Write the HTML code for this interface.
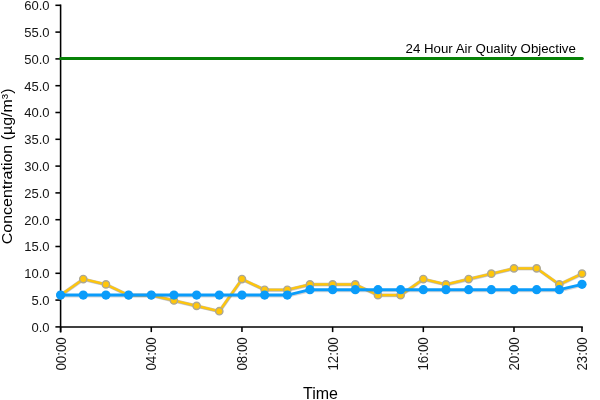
<!DOCTYPE html>
<html><head><meta charset="utf-8"><title>Chart</title>
<style>
html,body{margin:0;padding:0;background:#fff;}
body{width:600px;height:400px;overflow:hidden;}
svg{display:block;will-change:transform;font-family:"Liberation Sans",sans-serif;}
</style></head><body>
<svg width="600" height="400" viewBox="0 0 600 400">
<defs><filter id="bl" x="-5%" y="-50%" width="110%" height="200%" filterUnits="objectBoundingBox"><feGaussianBlur stdDeviation="0.6"/></filter></defs>
<rect width="600" height="400" fill="#ffffff"/>
<g stroke="#000" stroke-width="1.55" fill="none">
<line x1="60.6" y1="4.5" x2="60.6" y2="332.4"/>
<line x1="60.6" y1="326.9" x2="582.8" y2="326.9"/>
<line x1="55.4" y1="326.90" x2="60.6" y2="326.90"/>
<line x1="55.4" y1="300.10" x2="60.6" y2="300.10"/>
<line x1="55.4" y1="273.30" x2="60.6" y2="273.30"/>
<line x1="55.4" y1="246.50" x2="60.6" y2="246.50"/>
<line x1="55.4" y1="219.70" x2="60.6" y2="219.70"/>
<line x1="55.4" y1="192.90" x2="60.6" y2="192.90"/>
<line x1="55.4" y1="166.10" x2="60.6" y2="166.10"/>
<line x1="55.4" y1="139.30" x2="60.6" y2="139.30"/>
<line x1="55.4" y1="112.50" x2="60.6" y2="112.50"/>
<line x1="55.4" y1="85.70" x2="60.6" y2="85.70"/>
<line x1="55.4" y1="58.90" x2="60.6" y2="58.90"/>
<line x1="55.4" y1="32.10" x2="60.6" y2="32.10"/>
<line x1="55.4" y1="5.30" x2="60.6" y2="5.30"/>
<line x1="60.60" y1="326.9" x2="60.60" y2="332.09999999999997"/>
<line x1="151.28" y1="326.9" x2="151.28" y2="332.09999999999997"/>
<line x1="241.96" y1="326.9" x2="241.96" y2="332.09999999999997"/>
<line x1="332.63" y1="326.9" x2="332.63" y2="332.09999999999997"/>
<line x1="423.31" y1="326.9" x2="423.31" y2="332.09999999999997"/>
<line x1="513.99" y1="326.9" x2="513.99" y2="332.09999999999997"/>
<line x1="582.00" y1="326.9" x2="582.00" y2="332.09999999999997"/>
</g>
<g font-size="13.55" fill="#151515" text-anchor="end">
<text transform="translate(49.6,331.75) scale(0.962,1)">0.0</text>
<text transform="translate(49.6,304.95) scale(0.962,1)">5.0</text>
<text transform="translate(49.6,278.15) scale(0.962,1)">10.0</text>
<text transform="translate(49.6,251.35) scale(0.962,1)">15.0</text>
<text transform="translate(49.6,224.55) scale(0.962,1)">20.0</text>
<text transform="translate(49.6,197.75) scale(0.962,1)">25.0</text>
<text transform="translate(49.6,170.95) scale(0.962,1)">30.0</text>
<text transform="translate(49.6,144.15) scale(0.962,1)">35.0</text>
<text transform="translate(49.6,117.35) scale(0.962,1)">40.0</text>
<text transform="translate(49.6,90.55) scale(0.962,1)">45.0</text>
<text transform="translate(49.6,63.75) scale(0.962,1)">50.0</text>
<text transform="translate(49.6,36.95) scale(0.962,1)">55.0</text>
<text transform="translate(49.6,10.15) scale(0.962,1)">60.0</text>
</g>
<g font-size="13.33" fill="#151515" text-anchor="end">
<text transform="translate(65.70,337.3) rotate(-90) scale(1,1.04)">00:00</text>
<text transform="translate(156.38,337.3) rotate(-90) scale(1,1.04)">04:00</text>
<text transform="translate(247.06,337.3) rotate(-90) scale(1,1.04)">08:00</text>
<text transform="translate(337.73,337.3) rotate(-90) scale(1,1.04)">12:00</text>
<text transform="translate(428.41,337.3) rotate(-90) scale(1,1.04)">16:00</text>
<text transform="translate(519.09,337.3) rotate(-90) scale(1,1.04)">20:00</text>
<text transform="translate(587.10,337.3) rotate(-90) scale(1,1.04)">23:00</text>
</g>
<text font-size="16" fill="#000" text-anchor="middle" transform="translate(11.7,166.4) rotate(-90) scale(1,0.94)">Concentration (µg/m³)</text>
<text font-size="16" fill="#000" text-anchor="middle" x="320.5" y="399.4">Time</text>
<line x1="60.6" y1="60.05" x2="582.6" y2="60.05" stroke="#777" stroke-width="2.6" stroke-linecap="round" opacity="0.5" filter="url(#bl)"/>
<line x1="60.6" y1="58.55" x2="582.3" y2="58.55" stroke="#078207" stroke-width="3" stroke-linecap="round"/>
<text font-size="13.27" fill="#000" text-anchor="end" x="575.9" y="53.4">24 Hour Air Quality Objective</text>
<polyline points="60.60,295.14 83.27,279.06 105.94,284.42 128.61,295.14 151.28,295.14 173.95,300.50 196.62,305.86 219.29,311.22 241.96,279.06 264.63,289.78 287.30,289.78 309.97,284.42 332.63,284.42 355.30,284.42 377.97,295.14 400.64,295.14 423.31,279.06 445.98,284.42 468.65,279.06 491.32,273.70 513.99,268.34 536.66,268.34 559.33,284.42 582.00,273.70" transform="translate(0.4,1.1)" fill="none" stroke="#777" stroke-width="2.15" stroke-linejoin="round" stroke-linecap="round" opacity="0.3" filter="url(#bl)"/>
<polyline points="60.60,295.14 83.27,279.06 105.94,284.42 128.61,295.14 151.28,295.14 173.95,300.50 196.62,305.86 219.29,311.22 241.96,279.06 264.63,289.78 287.30,289.78 309.97,284.42 332.63,284.42 355.30,284.42 377.97,295.14 400.64,295.14 423.31,279.06 445.98,284.42 468.65,279.06 491.32,273.70 513.99,268.34 536.66,268.34 559.33,284.42 582.00,273.70" fill="none" stroke="#b5a780" stroke-width="3.15" stroke-linejoin="round" stroke-linecap="round" opacity="0.75"/>
<polyline points="60.60,295.14 83.27,279.06 105.94,284.42 128.61,295.14 151.28,295.14 173.95,300.50 196.62,305.86 219.29,311.22 241.96,279.06 264.63,289.78 287.30,289.78 309.97,284.42 332.63,284.42 355.30,284.42 377.97,295.14 400.64,295.14 423.31,279.06 445.98,284.42 468.65,279.06 491.32,273.70 513.99,268.34 536.66,268.34 559.33,284.42 582.00,273.70" fill="none" stroke="#ffc60a" stroke-width="2.15" stroke-linejoin="round" stroke-linecap="round"/>
<circle cx="60.60" cy="295.14" r="3.65" fill="#ffc60a" stroke="#aca794" stroke-width="1.4"/>
<circle cx="83.27" cy="279.06" r="3.65" fill="#ffc60a" stroke="#aca794" stroke-width="1.4"/>
<circle cx="105.94" cy="284.42" r="3.65" fill="#ffc60a" stroke="#aca794" stroke-width="1.4"/>
<circle cx="128.61" cy="295.14" r="3.65" fill="#ffc60a" stroke="#aca794" stroke-width="1.4"/>
<circle cx="151.28" cy="295.14" r="3.65" fill="#ffc60a" stroke="#aca794" stroke-width="1.4"/>
<circle cx="173.95" cy="300.50" r="3.65" fill="#ffc60a" stroke="#aca794" stroke-width="1.4"/>
<circle cx="196.62" cy="305.86" r="3.65" fill="#ffc60a" stroke="#aca794" stroke-width="1.4"/>
<circle cx="219.29" cy="311.22" r="3.65" fill="#ffc60a" stroke="#aca794" stroke-width="1.4"/>
<circle cx="241.96" cy="279.06" r="3.65" fill="#ffc60a" stroke="#aca794" stroke-width="1.4"/>
<circle cx="264.63" cy="289.78" r="3.65" fill="#ffc60a" stroke="#aca794" stroke-width="1.4"/>
<circle cx="287.30" cy="289.78" r="3.65" fill="#ffc60a" stroke="#aca794" stroke-width="1.4"/>
<circle cx="309.97" cy="284.42" r="3.65" fill="#ffc60a" stroke="#aca794" stroke-width="1.4"/>
<circle cx="332.63" cy="284.42" r="3.65" fill="#ffc60a" stroke="#aca794" stroke-width="1.4"/>
<circle cx="355.30" cy="284.42" r="3.65" fill="#ffc60a" stroke="#aca794" stroke-width="1.4"/>
<circle cx="377.97" cy="295.14" r="3.65" fill="#ffc60a" stroke="#aca794" stroke-width="1.4"/>
<circle cx="400.64" cy="295.14" r="3.65" fill="#ffc60a" stroke="#aca794" stroke-width="1.4"/>
<circle cx="423.31" cy="279.06" r="3.65" fill="#ffc60a" stroke="#aca794" stroke-width="1.4"/>
<circle cx="445.98" cy="284.42" r="3.65" fill="#ffc60a" stroke="#aca794" stroke-width="1.4"/>
<circle cx="468.65" cy="279.06" r="3.65" fill="#ffc60a" stroke="#aca794" stroke-width="1.4"/>
<circle cx="491.32" cy="273.70" r="3.65" fill="#ffc60a" stroke="#aca794" stroke-width="1.4"/>
<circle cx="513.99" cy="268.34" r="3.65" fill="#ffc60a" stroke="#aca794" stroke-width="1.4"/>
<circle cx="536.66" cy="268.34" r="3.65" fill="#ffc60a" stroke="#aca794" stroke-width="1.4"/>
<circle cx="559.33" cy="284.42" r="3.65" fill="#ffc60a" stroke="#aca794" stroke-width="1.4"/>
<circle cx="582.00" cy="273.70" r="3.65" fill="#ffc60a" stroke="#aca794" stroke-width="1.4"/>
<polyline points="60.60,295.04 83.27,295.04 105.94,295.04 128.61,295.04 151.28,295.04 173.95,295.04 196.62,295.04 219.29,295.04 241.96,295.04 264.63,295.04 287.30,295.04 309.97,289.68 332.63,289.68 355.30,289.68 377.97,289.68 400.64,289.68 423.31,289.68 445.98,289.68 468.65,289.68 491.32,289.68 513.99,289.68 536.66,289.68 559.33,289.68 582.00,284.32" transform="translate(0.4,1.1)" fill="none" stroke="#777" stroke-width="2.9" stroke-linejoin="round" stroke-linecap="round" opacity="0.3" filter="url(#bl)"/>
<polyline points="60.60,295.04 83.27,295.04 105.94,295.04 128.61,295.04 151.28,295.04 173.95,295.04 196.62,295.04 219.29,295.04 241.96,295.04 264.63,295.04 287.30,295.04 309.97,289.68 332.63,289.68 355.30,289.68 377.97,289.68 400.64,289.68 423.31,289.68 445.98,289.68 468.65,289.68 491.32,289.68 513.99,289.68 536.66,289.68 559.33,289.68 582.00,284.32" fill="none" stroke="#0a9cfa" stroke-width="2.9" stroke-linejoin="round" stroke-linecap="round"/>
<circle cx="60.60" cy="295.04" r="4.6" fill="#0a9cfa"/>
<circle cx="83.27" cy="295.04" r="4.6" fill="#0a9cfa"/>
<circle cx="105.94" cy="295.04" r="4.6" fill="#0a9cfa"/>
<circle cx="128.61" cy="295.04" r="4.6" fill="#0a9cfa"/>
<circle cx="151.28" cy="295.04" r="4.6" fill="#0a9cfa"/>
<circle cx="173.95" cy="295.04" r="4.6" fill="#0a9cfa"/>
<circle cx="196.62" cy="295.04" r="4.6" fill="#0a9cfa"/>
<circle cx="219.29" cy="295.04" r="4.6" fill="#0a9cfa"/>
<circle cx="241.96" cy="295.04" r="4.6" fill="#0a9cfa"/>
<circle cx="264.63" cy="295.04" r="4.6" fill="#0a9cfa"/>
<circle cx="287.30" cy="295.04" r="4.6" fill="#0a9cfa"/>
<circle cx="309.97" cy="289.68" r="4.6" fill="#0a9cfa"/>
<circle cx="332.63" cy="289.68" r="4.6" fill="#0a9cfa"/>
<circle cx="355.30" cy="289.68" r="4.6" fill="#0a9cfa"/>
<circle cx="377.97" cy="289.68" r="4.6" fill="#0a9cfa"/>
<circle cx="400.64" cy="289.68" r="4.6" fill="#0a9cfa"/>
<circle cx="423.31" cy="289.68" r="4.6" fill="#0a9cfa"/>
<circle cx="445.98" cy="289.68" r="4.6" fill="#0a9cfa"/>
<circle cx="468.65" cy="289.68" r="4.6" fill="#0a9cfa"/>
<circle cx="491.32" cy="289.68" r="4.6" fill="#0a9cfa"/>
<circle cx="513.99" cy="289.68" r="4.6" fill="#0a9cfa"/>
<circle cx="536.66" cy="289.68" r="4.6" fill="#0a9cfa"/>
<circle cx="559.33" cy="289.68" r="4.6" fill="#0a9cfa"/>
<circle cx="582.00" cy="284.32" r="4.6" fill="#0a9cfa"/>
</svg></body></html>
